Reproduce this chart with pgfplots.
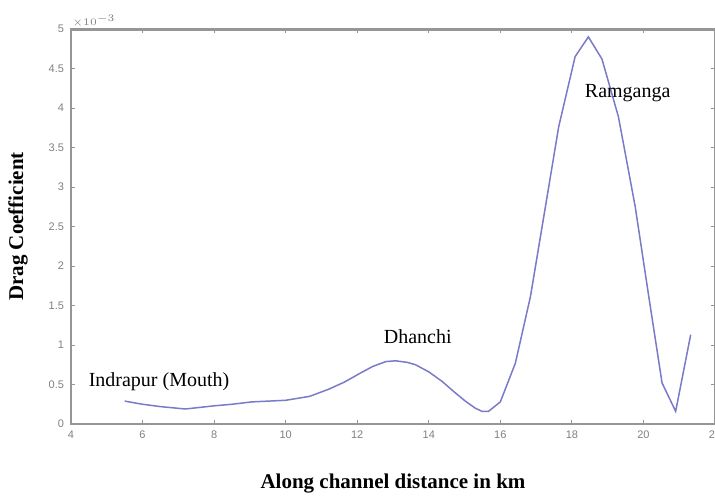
\documentclass[border=0pt]{standalone}
\usepackage{pgfplots}
\pgfplotsset{compat=1.18}
\usepackage{fontspec}
\setmainfont{Liberation Serif}
\newfontfamily\ticksans{Liberation Sans}
\definecolor{curve}{RGB}{122,122,200}
\definecolor{axgray}{RGB}{150,150,150}
\begin{document}
\begin{tikzpicture}
\useasboundingbox (-35.5pt,-36.5pt) rectangle (322pt,212pt);
\begin{axis}[
  scale only axis,
  width=322pt, height=197.5pt,
  xmin=4, xmax=22, ymin=0, ymax=5,
  xtick={4,6,...,22},
  ytick={0,0.5,...,5},
  yticklabels={0,0.5,1,1.5,2,2.5,3,3.5,4,4.5,5},
  /pgf/number format/assume math mode=true,
  tick label style={font=\ticksans\fontsize{5.5}{6}\selectfont, text=gray},
  tick align=inside,
  major tick length=2pt,
  tick style={axgray, line width=0.5pt},
  axis line style={axgray, line width=0.8pt},
  xlabel={\textbf{Along channel distance in km}},
  ylabel={\textbf{Drag Coefficient}},
  label style={font=\fontsize{10.5}{12}\selectfont},
  xlabel style={at={(axis description cs:0.5,0)}, anchor=center, yshift=-30pt},
  ylabel style={at={(axis description cs:0,0.5)}, anchor=center, yshift=26.5pt},
  clip=false,
]
\addplot[curve, line width=0.75pt] coordinates {
(5.5,0.29) (6.0,0.25) (6.5,0.22) (7.2,0.19) (8.0,0.23) (8.5,0.25) (9.06,0.28)
(10.0,0.30) (10.67,0.35) (11.2,0.44) (11.64,0.53) (12.07,0.64) (12.44,0.73)
(12.8,0.79) (13.07,0.80) (13.4,0.78) (13.63,0.75) (14.0,0.66) (14.37,0.54)
(14.7,0.41) (15.02,0.29) (15.3,0.20) (15.49,0.16) (15.67,0.16) (16.0,0.28)
(16.42,0.77) (16.84,1.61) (17.26,2.75) (17.63,3.76) (18.09,4.65) (18.46,4.90)
(18.84,4.62) (19.3,3.89) (19.77,2.75) (20.15,1.61) (20.52,0.52) (20.9,0.16)
(21.32,1.13)
};
\draw[axgray, line width=1.5pt] (rel axis cs:0,1) -- (rel axis cs:1,1);
\node[font=\fontsize{10}{12}\selectfont] at (axis cs:6.46,0.54) {Indrapur (Mouth)};
\node[font=\fontsize{10}{12}\selectfont] at (axis cs:13.69,1.10) {Dhanchi};
\node[font=\fontsize{10}{12}\selectfont] at (axis cs:19.56,4.19) {Ramganga};
\node[anchor=south west, font=\ticksans\fontsize{5.5}{6}\selectfont, text=gray, inner sep=0.5pt] at (rel axis cs:0,1) {$\times 10^{-3}$};
\end{axis}
\end{tikzpicture}
\end{document}
